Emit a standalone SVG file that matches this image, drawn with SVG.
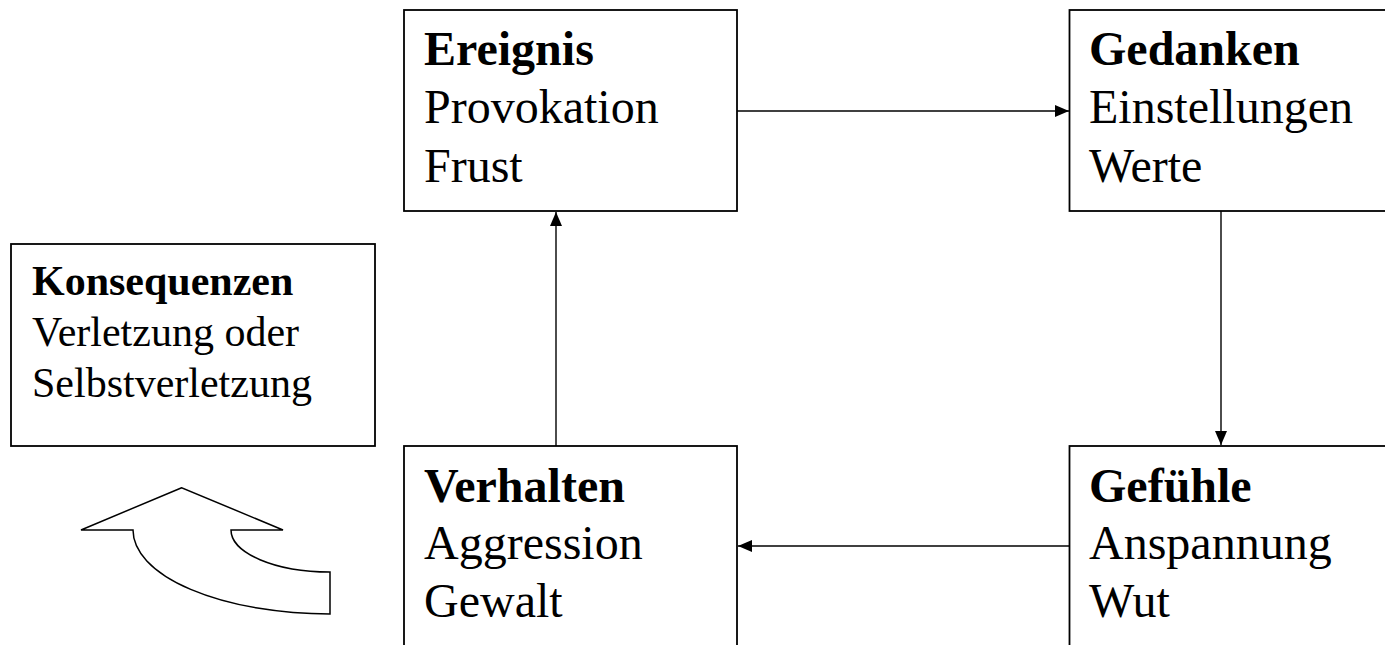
<svg xmlns="http://www.w3.org/2000/svg" width="1385" height="645" viewBox="0 0 1385 645">
  <style>
    .box { fill: #ffffff; stroke: #000000; stroke-width: 1.8; }
    .t { font-family: "Liberation Serif", "Times New Roman", serif; fill: #000000; }
    .big { font-size: 48px; }
    .small { font-size: 42px; }
    .b { font-weight: bold; }
    .conn { fill: none; stroke: #000000; stroke-width: 1.4; marker-end: url(#tri); }
  </style>
  <defs>
    <marker id="tri" viewBox="0 0 14 12" refX="14" refY="6" markerWidth="14" markerHeight="12" markerUnits="userSpaceOnUse" orient="auto">
      <path d="M0,0 L14,6 L0,12 Z" fill="#000000"/>
    </marker>
  </defs>
  <rect width="1385" height="645" fill="#ffffff"/>

  <g id="ereignis">
    <rect class="box" x="404" y="10" width="333" height="201"/>
    <text class="t big b" x="424" y="65">Ereignis</text>
    <text class="t big" x="424" y="123">Provokation</text>
    <text class="t big" x="424" y="182">Frust</text>
  </g>

  <g id="gedanken">
    <rect class="box" x="1069.5" y="10" width="333" height="201"/>
    <text class="t big b" x="1089" y="65">Gedanken</text>
    <text class="t big" x="1089" y="123">Einstellungen</text>
    <text class="t big" x="1089" y="182">Werte</text>
  </g>

  <g id="gefuehle">
    <rect class="box" x="1069.5" y="446" width="333" height="220"/>
    <text class="t big b" x="1089" y="502">Gefühle</text>
    <text class="t big" x="1089" y="559">Anspannung</text>
    <text class="t big" x="1089" y="617">Wut</text>
  </g>

  <g id="verhalten">
    <rect class="box" x="404" y="446" width="333" height="220"/>
    <text class="t big b" x="424" y="502">Verhalten</text>
    <text class="t big" x="424" y="559">Aggression</text>
    <text class="t big" x="424" y="617">Gewalt</text>
  </g>

  <g id="konsequenzen">
    <rect class="box" x="11" y="244" width="364" height="202"/>
    <text class="t small b" x="32" y="295">Konsequenzen</text>
    <text class="t small" x="32" y="346">Verletzung oder</text>
    <text class="t small" x="32" y="397">Selbstverletzung</text>
  </g>

  <!-- curved block arrow pointing up toward the consequences box -->
  <g id="curved-arrow">
    <path d="M181.7,487.7 L81,530 L133,530 A197,84 0 0 0 330,614 L330,572 A99,42 0 0 1 231,530 L283,530 Z"
          fill="#ffffff" stroke="#000000" stroke-width="1.5" stroke-linejoin="miter"/>
  </g>

  <g id="connectors">
    <line class="conn" x1="737" y1="111" x2="1069" y2="111"/>
    <line class="conn" x1="1221" y1="211" x2="1221" y2="445"/>
    <line class="conn" x1="1069" y1="546" x2="738" y2="546"/>
    <line class="conn" x1="556" y1="446" x2="556" y2="212"/>
  </g>
</svg>
